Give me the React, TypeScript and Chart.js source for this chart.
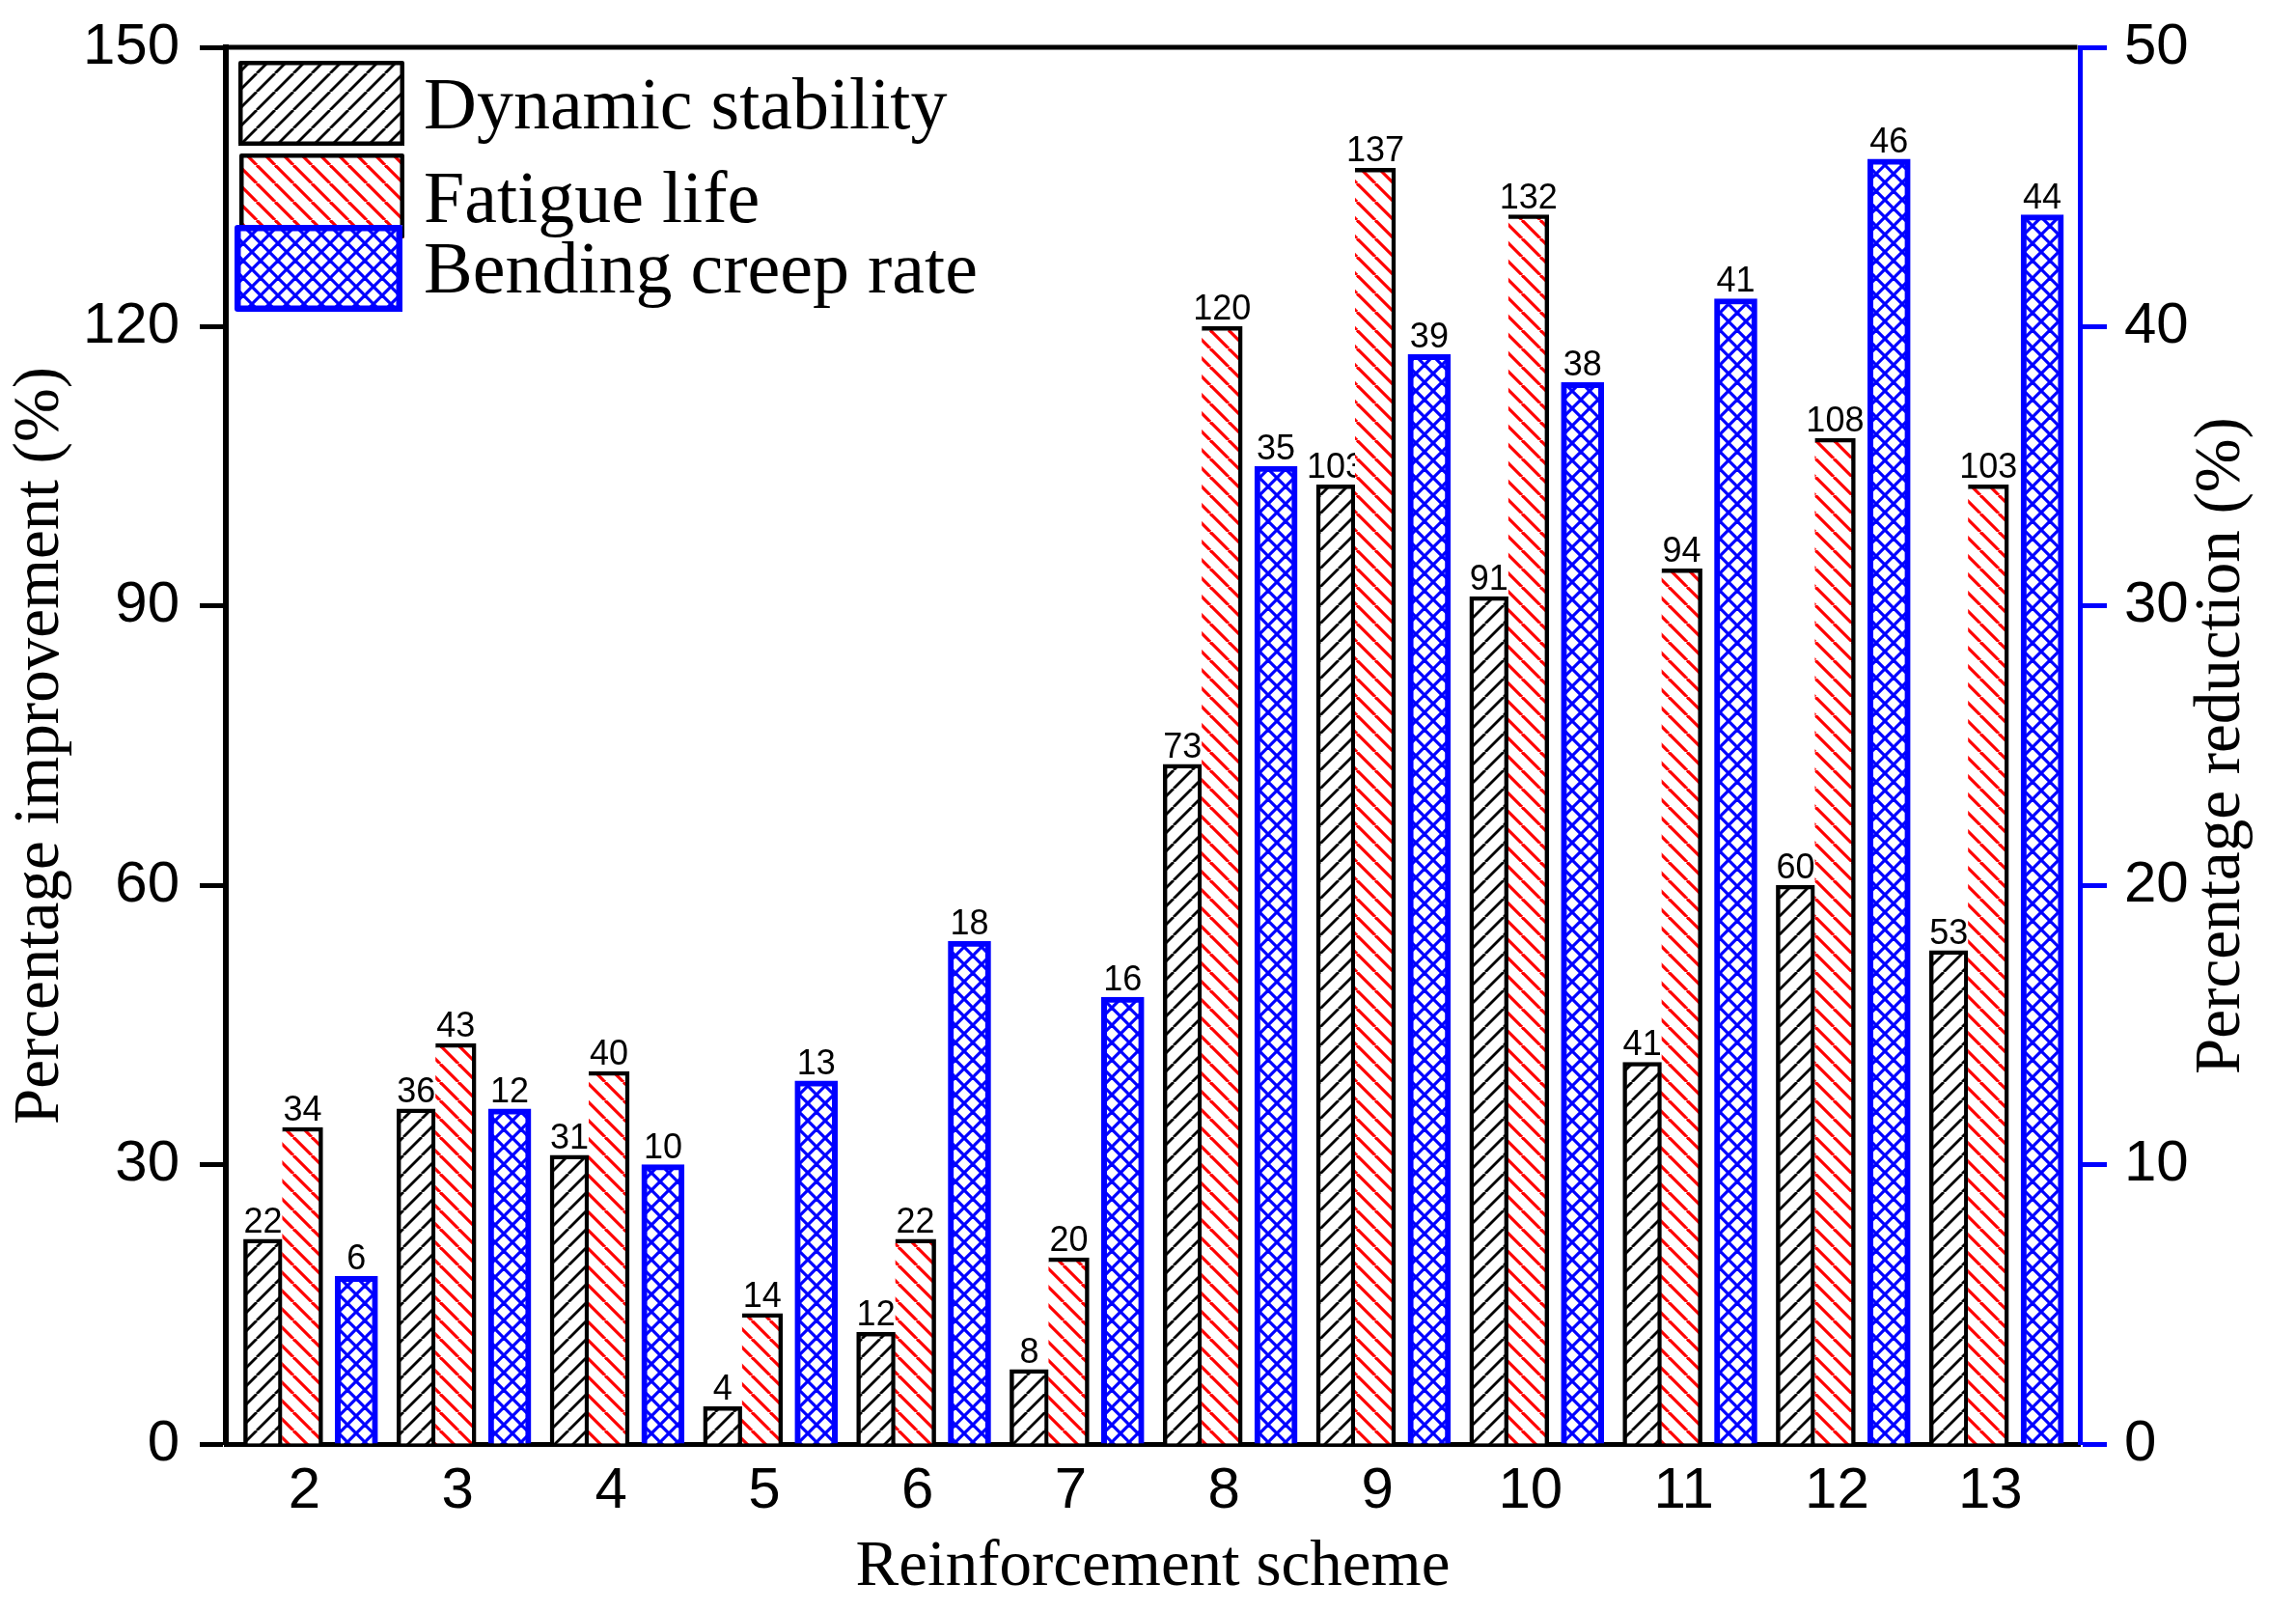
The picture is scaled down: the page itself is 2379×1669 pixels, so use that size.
import { useEffect, useRef } from 'react';
import { Chart, registerables } from 'chart.js';

Chart.register(...registerables);

const W = 2379;
const H = 1669;

// ---- data ----
const SCHEMES = [2, 3, 4, 5, 6, 7, 8, 9, 10, 11, 12, 13];
const SCHEME_LABELS = ['2', '3', '4', '5', '6', '7', '8', '9', '10', '11', '12', '13'];
const DYNAMIC_STABILITY = [22, 36, 31, 4, 12, 8, 73, 103, 91, 41, 60, 53];
const FATIGUE_LIFE = [34, 43, 40, 14, 22, 20, 120, 137, 132, 94, 108, 103];
const BENDING_CREEP_RATE = [6, 12, 10, 13, 18, 16, 35, 39, 38, 41, 46, 44];
const SERIES_NAMES = ['Dynamic stability', 'Fatigue life', 'Bending creep rate'];
const LEFT_AXIS = { min: 0, max: 150, step: 30 };
const RIGHT_AXIS = { min: 0, max: 50, step: 10 };
const X_TITLE = 'Reinforcement scheme';
const Y_LEFT_TITLE = 'Percentage improvement (%)';
const Y_RIGHT_TITLE = 'Percentage reduction (%)';

// layout (position of each series within a scheme, in scheme units)
const SERIES_OFFSETS = [-0.271, -0.013, 0.339];

function makeHatch(color: string, lw: number, size: number, dirs: string[]) {
  const c = document.createElement('canvas');
  c.width = size;
  c.height = size;
  const g = c.getContext('2d') as CanvasRenderingContext2D;
  g.fillStyle = '#ffffff';
  g.fillRect(0, 0, size, size);
  g.strokeStyle = color;
  g.lineWidth = lw;
  for (const d of dirs) {
    for (let k = -1; k <= 1; k++) {
      g.beginPath();
      if (d === '/') {
        g.moveTo(k * size, size);
        g.lineTo(k * size + size, 0);
      } else {
        g.moveTo(k * size, 0);
        g.lineTo(k * size + size, size);
      }
      g.stroke();
    }
  }
  return g.createPattern(c, 'repeat') as CanvasPattern;
}

const noPad = (axis: any) => {
  axis.paddingTop = 0;
  axis.paddingBottom = 0;
  axis.paddingLeft = 0;
  axis.paddingRight = 0;
};

export default function App() {
  const ref = useRef<HTMLCanvasElement>(null);

  useEffect(() => {
    const canvas = ref.current as HTMLCanvasElement;
    const hatchBlack = makeHatch('#000000', 2.8, 19, ['/']);
    const hatchRed = makeHatch('#ff0000', 3.2, 19, ['\\']);
    const hatchBlue = makeHatch('#0000ff', 3.2, 18, ['/', '\\']);

    const labelPlugin = {
      id: 'barLabels',
      afterDatasetDraw(chart: any, args: any) {
        const ctx = chart.ctx as CanvasRenderingContext2D;
        const ds = chart.data.datasets[args.index];
        ctx.save();
        ctx.font = '36px "Liberation Sans", Arial, sans-serif';
        ctx.fillStyle = '#000';
        ctx.textAlign = 'center';
        ctx.textBaseline = 'alphabetic';
        args.meta.data.forEach((el: any, i: number) => {
          const v = ds.data[i].y;
          ctx.fillText(String(v), el.x, el.y - 7);
        });
        ctx.restore();
      },
    };

    const decorPlugin = {
      id: 'decor',
      afterDraw(chart: any) {
        const ctx = chart.ctx as CanvasRenderingContext2D;
        const a = chart.chartArea;
        ctx.save();
        // top frame line
        ctx.strokeStyle = '#000';
        ctx.lineWidth = 5;
        ctx.beginPath();
        ctx.moveTo(a.left - 3, a.top);
        ctx.lineTo(a.right - 2.5, a.top);
        ctx.stroke();

        // axis titles
        ctx.fillStyle = '#000';
        ctx.font = '67px "Liberation Serif", "Times New Roman", serif';
        ctx.textAlign = 'center';
        ctx.textBaseline = 'alphabetic';
        ctx.fillText(X_TITLE, (a.left + a.right) / 2, 1642);
        const cy = (a.top + a.bottom) / 2;
        ctx.save();
        ctx.translate(60, cy);
        ctx.rotate(-Math.PI / 2);
        ctx.fillText(Y_LEFT_TITLE, 0, 0);
        ctx.restore();
        ctx.save();
        ctx.translate(2320, cy);
        ctx.rotate(-Math.PI / 2);
        ctx.fillText(Y_RIGHT_TITLE, 0, 0);
        ctx.restore();

        // legend
        const boxes = [
          { x: 247, y: 63, w: 172, h: 88, fill: hatchBlack, stroke: '#000', lw: 4.5 },
          { x: 248, y: 159, w: 171, h: 88, fill: hatchRed, stroke: '#000', lw: 4.5 },
          { x: 243, y: 233, w: 174, h: 90, fill: hatchBlue, stroke: '#0000ff', lw: 6.5 },
        ];
        const baselines = [133, 230, 303];
        ctx.lineJoin = 'round';
        boxes.forEach((b, i) => {
          ctx.fillStyle = b.fill;
          ctx.fillRect(b.x, b.y, b.w, b.h);
          ctx.strokeStyle = b.stroke;
          ctx.lineWidth = b.lw;
          ctx.strokeRect(b.x + b.lw / 2, b.y + b.lw / 2, b.w - b.lw, b.h - b.lw);
          ctx.fillStyle = '#000';
          ctx.font = '76px "Liberation Serif", "Times New Roman", serif';
          ctx.textAlign = 'left';
          ctx.fillText(SERIES_NAMES[i], 439, baselines[i]);
        });
        ctx.restore();
      },
    };

    const chart = new Chart(canvas, {
      type: 'bar',
      data: {
        datasets: [
          {
            label: SERIES_NAMES[0],
            data: DYNAMIC_STABILITY.map((v, i) => ({ x: SCHEMES[i] + SERIES_OFFSETS[0], y: v })),
            backgroundColor: hatchBlack,
            borderColor: '#000000',
            borderWidth: 4.5,
            borderSkipped: 'start',
            barThickness: 40,
            grouped: false,
            yAxisID: 'y',
            order: 2,
          } as any,
          {
            label: SERIES_NAMES[1],
            data: FATIGUE_LIFE.map((v, i) => ({ x: SCHEMES[i] + SERIES_OFFSETS[1], y: v })),
            backgroundColor: hatchRed,
            borderColor: '#000000',
            borderWidth: { top: 4.5, right: 4.5, bottom: 0, left: 0 },
            borderSkipped: false,
            barThickness: 42,
            grouped: false,
            yAxisID: 'y',
            order: 1,
          } as any,
          {
            label: SERIES_NAMES[2],
            data: BENDING_CREEP_RATE.map((v, i) => ({ x: SCHEMES[i] + SERIES_OFFSETS[2], y: v })),
            backgroundColor: hatchBlue,
            borderColor: '#0000ff',
            borderWidth: 6,
            borderSkipped: 'start',
            barThickness: 44,
            grouped: false,
            yAxisID: 'y1',
            order: 0,
          } as any,
        ],
      },
      options: {
        responsive: false,
        animation: false,
        devicePixelRatio: 1,
        layout: { padding: { top: 49, left: 0, right: 0, bottom: 0 } },
        plugins: { legend: { display: false }, tooltip: { enabled: false } },
        scales: {
          x: {
            type: 'linear',
            min: 1.487,
            max: 13.584,
            offset: false,
            z: 1,
            afterBuildTicks: (axis: any) => {
              axis.ticks = SCHEMES.map((v) => ({ value: v }));
            },
            afterFit: (axis: any) => {
              axis.height = H - 1496;
              noPad(axis);
            },
            ticks: {
              autoSkip: false,
              maxRotation: 0,
              minRotation: 0,
              padding: 13,
              color: '#000',
              font: { family: '"Liberation Sans", Arial, sans-serif', size: 60 },
              callback: (v: any) => {
                const idx = SCHEMES.indexOf(Number(v));
                return idx >= 0 ? SCHEME_LABELS[idx] : '';
              },
            },
            grid: { display: false, drawTicks: false, offset: false },
            border: { display: true, color: '#000', width: 5 },
          } as any,
          y: {
            position: 'left',
            min: LEFT_AXIS.min,
            max: LEFT_AXIS.max,
            afterFit: (axis: any) => {
              axis.width = 234;
              noPad(axis);
            },
            ticks: {
              stepSize: LEFT_AXIS.step,
              padding: 21,
              color: '#000',
              font: { family: '"Liberation Sans", Arial, sans-serif', size: 60 },
            },
            grid: {
              drawOnChartArea: false,
              drawTicks: true,
              tickLength: 27,
              tickWidth: 5,
              tickColor: '#000',
            },
            border: { color: '#000', width: 6 },
          } as any,
          y1: {
            position: 'right',
            min: RIGHT_AXIS.min,
            max: RIGHT_AXIS.max,
            z: 2,
            afterFit: (axis: any) => {
              axis.width = W - 2155;
              noPad(axis);
            },
            ticks: {
              stepSize: RIGHT_AXIS.step,
              padding: 18,
              color: '#000',
              font: { family: '"Liberation Sans", Arial, sans-serif', size: 60 },
            },
            grid: {
              drawOnChartArea: false,
              drawTicks: true,
              tickLength: 28,
              tickWidth: 5,
              tickColor: '#0000ff',
            },
            border: { color: '#0000ff', width: 5 },
          } as any,
        },
      },
      plugins: [labelPlugin, decorPlugin],
    });
    return () => chart.destroy();
  }, []);

  return (
    <div style={{ position: 'fixed', left: 0, top: 0, width: W, height: H, background: '#fff' }}>
      <canvas ref={ref} width={W} height={H} style={{ width: W, height: H, display: 'block' }} />
    </div>
  );
}
